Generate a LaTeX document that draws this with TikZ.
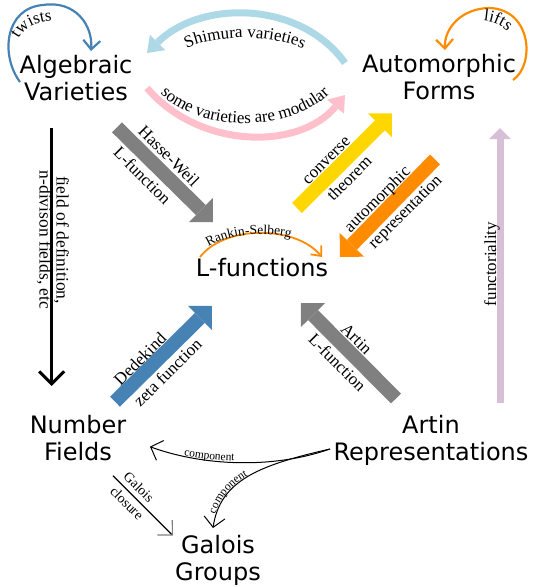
\documentclass[tikz,border=0pt]{standalone}
\usepackage{fontspec}
\setmainfont{Liberation Serif}
\newfontfamily\sansfam{DejaVu Sans}
\usetikzlibrary{arrows.meta,decorations.text,calc}
\definecolor{hwgray}{HTML}{808080}
\definecolor{cgold}{HTML}{FFD700}
\definecolor{dorange}{HTML}{FF8C00}
\definecolor{sblue}{HTML}{4682B4}
\definecolor{lblue}{HTML}{ADD8E6}
\definecolor{lpink}{HTML}{FFC0CB}
\definecolor{thist}{HTML}{D8BFD8}
\newcommand\lblf{\fontsize{17}{18}\selectfont}
\newcommand\rsf{\fontsize{13.5}{14}\selectfont}
\newcommand\cmpf{\fontsize{11.5}{12}\selectfont}
\tikzset{
  big/.style={font=\sansfam\fontsize{24}{27}\selectfont, align=center, inner sep=0pt},
  lbl/.style={font=\lblf, inner sep=0pt},
  glbl/.style={font=\fontsize{14}{15}\selectfont, inner sep=0pt},
  fat/.style={line width=14pt, -{Triangle[width=34pt,length=17pt,line width=0pt]}},
  arcarrow/.style={line width=7pt, -{Triangle[width=22pt,length=15pt,line width=0pt]}},
  loopar/.style={line width=2.2pt, -{Straight Barb[length=9pt,width=17pt]}},
  thinar/.style={line width=1pt, -{Straight Barb[length=10pt,width=21pt]}},
  curvetext/.style={decorate, decoration={text along path, text align=center}},
}
\begin{document}
\begin{tikzpicture}[x=1pt,y=-1pt]
\useasboundingbox (0,0) rectangle (536,587);

% main nodes
\node[big] (AV) at (76,78.4) {Algebraic\\Varieties};
\node[big] (AF) at (439,77.4) {Automorphic\\Forms};
\node[big] (LF) at (262,268) {L-functions};
\node[big] (NF) at (78,437.7) {Number\\Fields};
\node[big] (AR) at (431,440.5) {Artin\\Representations};
\node[big] (GG) at (218,560.7) {Galois\\Groups};

% twists loop
\draw[loopar, sblue] ($(AV)+(-56,3.6)$) .. controls (0,55) and (5,8) .. (43,5)
  .. controls (75,0) and (93,25) .. ($(AV)+(15,-27.4)$);
\path[curvetext, decoration={text={|\lblf|twists}}] (15,48) .. controls (19,30) and (34,20) .. (62,21);

% lifts loop
\draw[loopar, dorange] ($(AF)+(74,2.6)$) .. controls (535,65) and (532,10) .. (490,8)
  .. controls (462,8) and (444,28) .. ($(AF)+(6,-27.4)$);
\path[curvetext, decoration={text={|\lblf|lifts}}] (472,22) .. controls (489,18) and (505,25) .. (515,40);

% Shimura varieties
\draw[arcarrow, lblue] ($(AF)+(-94,-14.4)$) .. controls (300,0) and (200,0) .. ($(AV)+(71,-25.4)$);
\path[curvetext, decoration={text={|\lblf|Shimura varieties}}] (180,52) .. controls (210,33) and (275,33) .. (310,52);

% some varieties are modular
\draw[arcarrow, lpink] ($(AV)+(71,9.6)$) .. controls (200,150) and (300,150) .. ($(AF)+(-94,17.6)$);
\path[curvetext, decoration={text={|\lblf|some varieties are modular}}] (155,88) .. controls (195,135) and (295,135) .. (335,88);

% Hasse-Weil
\draw[fat, hwgray] ($(AV)+(41,49)$) -- ($(LF)+(-49,-46)$);
\node[lbl, rotate=-45] (hw1) at (169,156) {Hasse-Weil};
\node[lbl, rotate=-45] (hw2) at (142.5,175.5) {L-function};

% converse theorem
\draw[fat, cgold] ($(LF)+(35,-60)$) -- ($(AF)+(-47,36)$);
\node[lbl, rotate=45] (ct1) at (327,161) {converse};
\node[lbl, rotate=45] (ct2) at (349,178) {theorem};

% automorphic representation
\draw[fat, dorange] ($(AF)+(-4,82)$) -- ($(LF)+(78,-11)$);
\node[lbl, rotate=45] (ar1) at (378,200) {automorphic};
\node[lbl, rotate=45] (ar2) at (406,212.5) {representation};

% Dedekind zeta function
\draw[fat, sblue] ($(NF)+(37,-36)$) -- ($(LF)+(-50,38)$);
\node[lbl, rotate=45] (dz1) at (140,359) {Dedekind};
\node[lbl, rotate=45] (dz2) at (167.5,372.5) {zeta function};

% Artin L-function
\draw[fat, hwgray] ($(AR)+(-35,-42)$) -- ($(LF)+(39,35)$);
\node[lbl, rotate=-45] (al1) at (356.5,339) {Artin};
\node[lbl, rotate=-45] (al2) at (337.5,362.5) {L-function};

% functoriality
\draw[line width=7pt, thist, -{Triangle[width=22pt,length=11pt,line width=0pt]}] ($(AR)+(69,-37.5)$) -- ($(AF)+(61,50.6)$);
\node[lbl, rotate=90] (fu) at (492,264) {functoriality};

% field of definition
\draw[line width=3pt, -{Straight Barb[length=12.5pt,width=25pt]}] ($(AV)+(-24.3,49.6)$) -- ($(NF)+(-26.3,-51.7)$);
\node[lbl, rotate=-90, align=center, font=\fontsize{17.5}{17}\selectfont] (fd) at (53,240) {field of definition,\\n-divison fields, etc};

% Rankin-Selberg
\draw[line width=1.8pt, dorange, -{Straight Barb[length=8pt,width=14pt]}] ($(LF)+(-62,-11)$) .. controls (225,225) and (295,225) .. ($(LF)+(60,-11)$);
\path[curvetext, decoration={text={|\rsf|Rankin-Selberg}}] (204,250) .. controls (225,234) and (265,230) .. (296,239);

% component arrows
\draw[thinar] ($(AR)+(-101,8.5)$) .. controls (270,470) and (200,465) .. ($(NF)+(72,9)$);
\path[decorate, decoration={text along path, text={|\cmpf|component}, text align={left indent=35pt}, raise=1.5pt}] (150,447) .. controls (200,465) and (270,470) .. (330,449);
\draw[thinar] ($(AR)+(-101,8.5)$) .. controls (260,465) and (220,480) .. ($(GG)+(-5,-32.7)$);
\path[decorate, decoration={text along path, text={|\cmpf|component}, text align={left indent=14pt}, raise=1pt}] (213,528) .. controls (220,480) and (260,465) .. (330,449);

% Galois closure
\draw[line width=1.2pt, -{Straight Barb[length=10.6pt,width=21pt,color=gray]}] ($(NF)+(35,38)$) -- ($(GG)+(-45,-25)$);
\node[glbl, rotate=-45] (gc1) at (139,487) {Galois};
\node[glbl, rotate=-45] (gc2) at (127,503) {closure};
\end{tikzpicture}
\end{document}
